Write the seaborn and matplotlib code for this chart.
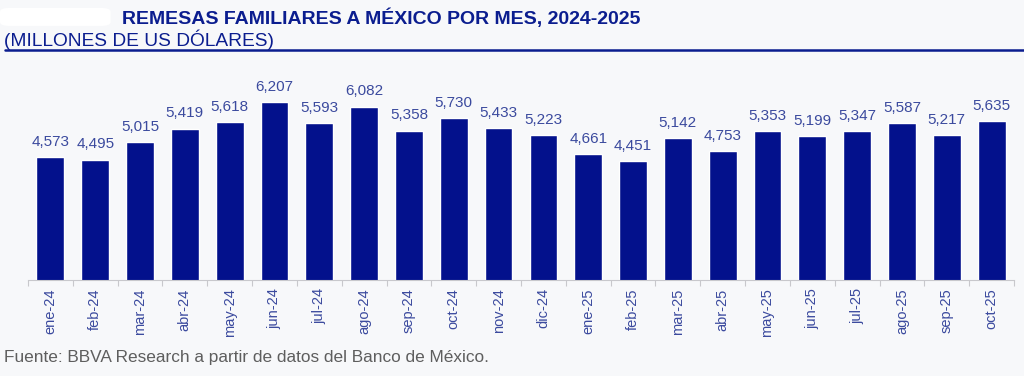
import pandas as pd
import seaborn as sns
import matplotlib.pyplot as plt
from matplotlib.patches import FancyBboxPatch

# datos (millones de US dólares)
meses = ["ene-24", "feb-24", "mar-24", "abr-24", "may-24", "jun-24", "jul-24", "ago-24",
         "sep-24", "oct-24", "nov-24", "dic-24", "ene-25", "feb-25", "mar-25", "abr-25",
         "may-25", "jun-25", "jul-25", "ago-25", "sep-25", "oct-25"]
remesas = [4573, 4495, 5015, 5419, 5618, 6207, 5593, 6082, 5358, 5730, 5433, 5223,
           4661, 4451, 5142, 4753, 5353, 5199, 5347, 5587, 5217, 5635]

titulo = "REMESAS FAMILIARES A MÉXICO POR MES, 2024-2025"
subtitulo = "(MILLONES DE US DÓLARES)"
fuente = "Fuente: BBVA Research a partir de datos del Banco de México."

AZUL_BARRA = "#03118C"
AZUL_TEXTO = "#3B4A9E"
AZUL_TITULO = "#0B1D8F"
FONDO = "#F7F8FA"

df = pd.DataFrame({"mes": meses, "valor": remesas})

sns.set_theme(style="white")
plt.rcParams["font.family"] = ["Liberation Sans", "DejaVu Sans"]

fig = plt.figure(figsize=(10.24, 3.76), dpi=100, facecolor=FONDO)
ax = fig.add_axes([0.0273, 0.2553, 0.963, 0.5798])
ax.set_facecolor(FONDO)

sns.barplot(data=df, x="mes", y="valor", color=AZUL_BARRA, width=0.62,
            saturation=1, ax=ax)

for i, v in enumerate(remesas):
    ax.annotate(f"{v:,}", (i, v), xytext=(0, 6), textcoords="offset points",
                ha="center", va="bottom", fontsize=11, color=AZUL_TEXTO)

ax.set_ylim(900, 7411)
ax.set_xlim(-0.5, len(meses) - 0.5)
ax.set_xlabel("")
ax.set_ylabel("")
ax.set_yticks([])
ax.tick_params(axis="x", which="major", length=0, pad=6, labelsize=10.5,
               labelcolor=AZUL_TEXTO, rotation=90)
ax.set_xticks([i - 0.5 for i in range(len(meses) + 1)], minor=True)
ax.tick_params(axis="x", which="minor", length=4, width=0.8, color="#C8C8CC",
               bottom=True)
for s in ["top", "right", "left"]:
    ax.spines[s].set_visible(False)
ax.spines["bottom"].set_color("#C8C8CC")
ax.spines["bottom"].set_linewidth(0.8)

# mancha blanca arriba a la izquierda
fig.patches.append(FancyBboxPatch((0.004, 0.935), 0.1, 0.04,
                                  boxstyle="round,pad=0.004,rounding_size=0.01",
                                  transform=fig.transFigure, facecolor="white",
                                  edgecolor="none"))

fig.text(0.119, 0.952, titulo, ha="left", va="center", fontsize=14,
         fontweight="bold", color=AZUL_TITULO)
fig.text(0.004, 0.893, subtitulo, ha="left", va="center", fontsize=13.8,
         color=AZUL_TITULO)
fig.add_artist(plt.Line2D([0.005, 1.0], [0.866, 0.866], transform=fig.transFigure,
                          color=AZUL_TITULO, linewidth=1.8))
fig.text(0.004, 0.048, fuente, ha="left", va="center", fontsize=12.4,
         color="#5E5E5E")

fig.savefig("out.png", dpi=100, facecolor=FONDO)
